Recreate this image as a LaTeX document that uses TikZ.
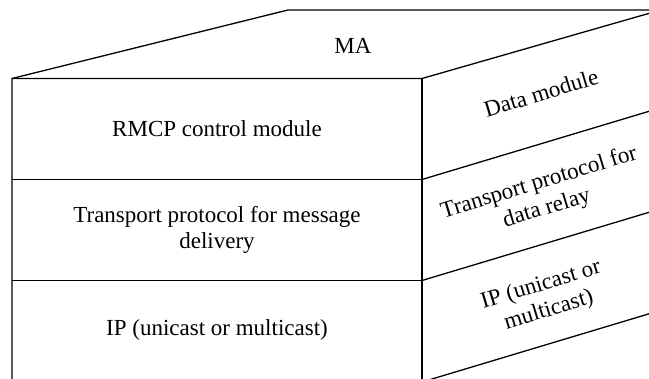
\documentclass[tikz,border=0pt]{standalone}
\usepackage{fontspec}
\setmainfont{Liberation Serif}
\begin{document}
\begin{tikzpicture}[x=1pt,y=-1pt,
  edge/.style={line width=1.3pt, line join=miter},
  label/.style={font=\fontsize{23}{26.5}\selectfont, align=center, inner sep=0pt},
  sidelabel/.style={label, rotate=17}]
  \useasboundingbox (0,0) rectangle (649,379);
  \clip (0,0) rectangle (649,379);

  % corners of the box
  \coordinate (ftl) at (12,78.5);
  \coordinate (ftr) at (422,78.5);
  \coordinate (btl) at (288,10);
  \coordinate (btr) at (720,10);
  \coordinate (rtop) at (720,-7);

  % top face
  \draw[edge] (12,400) -- (ftl) -- (btl) -- (btr);
  \draw[edge] (ftl) -- (ftr) -- (rtop);
  % front/side edge
  \draw[edge] (ftr) -- (422,400);

  % layer dividers on the front face
  \draw[edge] (12,179.5) -- (422,179.5);
  \draw[edge] (12,280.5) -- (422,280.5);

  % layer dividers on the side face
  \draw[edge] (422,179.5) -- (720,90);
  \draw[edge] (422,280.5) -- (720,191);
  \draw[edge] (422,382) -- (720,292.5);

  % labels
  \node[label] (ma) at (353,46) {MA};
  \node[label] (rmcp) at (217,129) {RMCP control module};
  \node[label] (tpm) at (217,230) {Transport protocol for message\\delivery};
  \node[label] (ipf) at (217,330) {IP (unicast or multicast)};

  \node[sidelabel] (data) at (541,93) {Data module};
  \node[sidelabel] (tpd) at (543,196) {Transport protocol for\\data relay};
  \node[sidelabel] (ips) at (545,298) {IP (unicast or\\multicast)};
\end{tikzpicture}
\end{document}
